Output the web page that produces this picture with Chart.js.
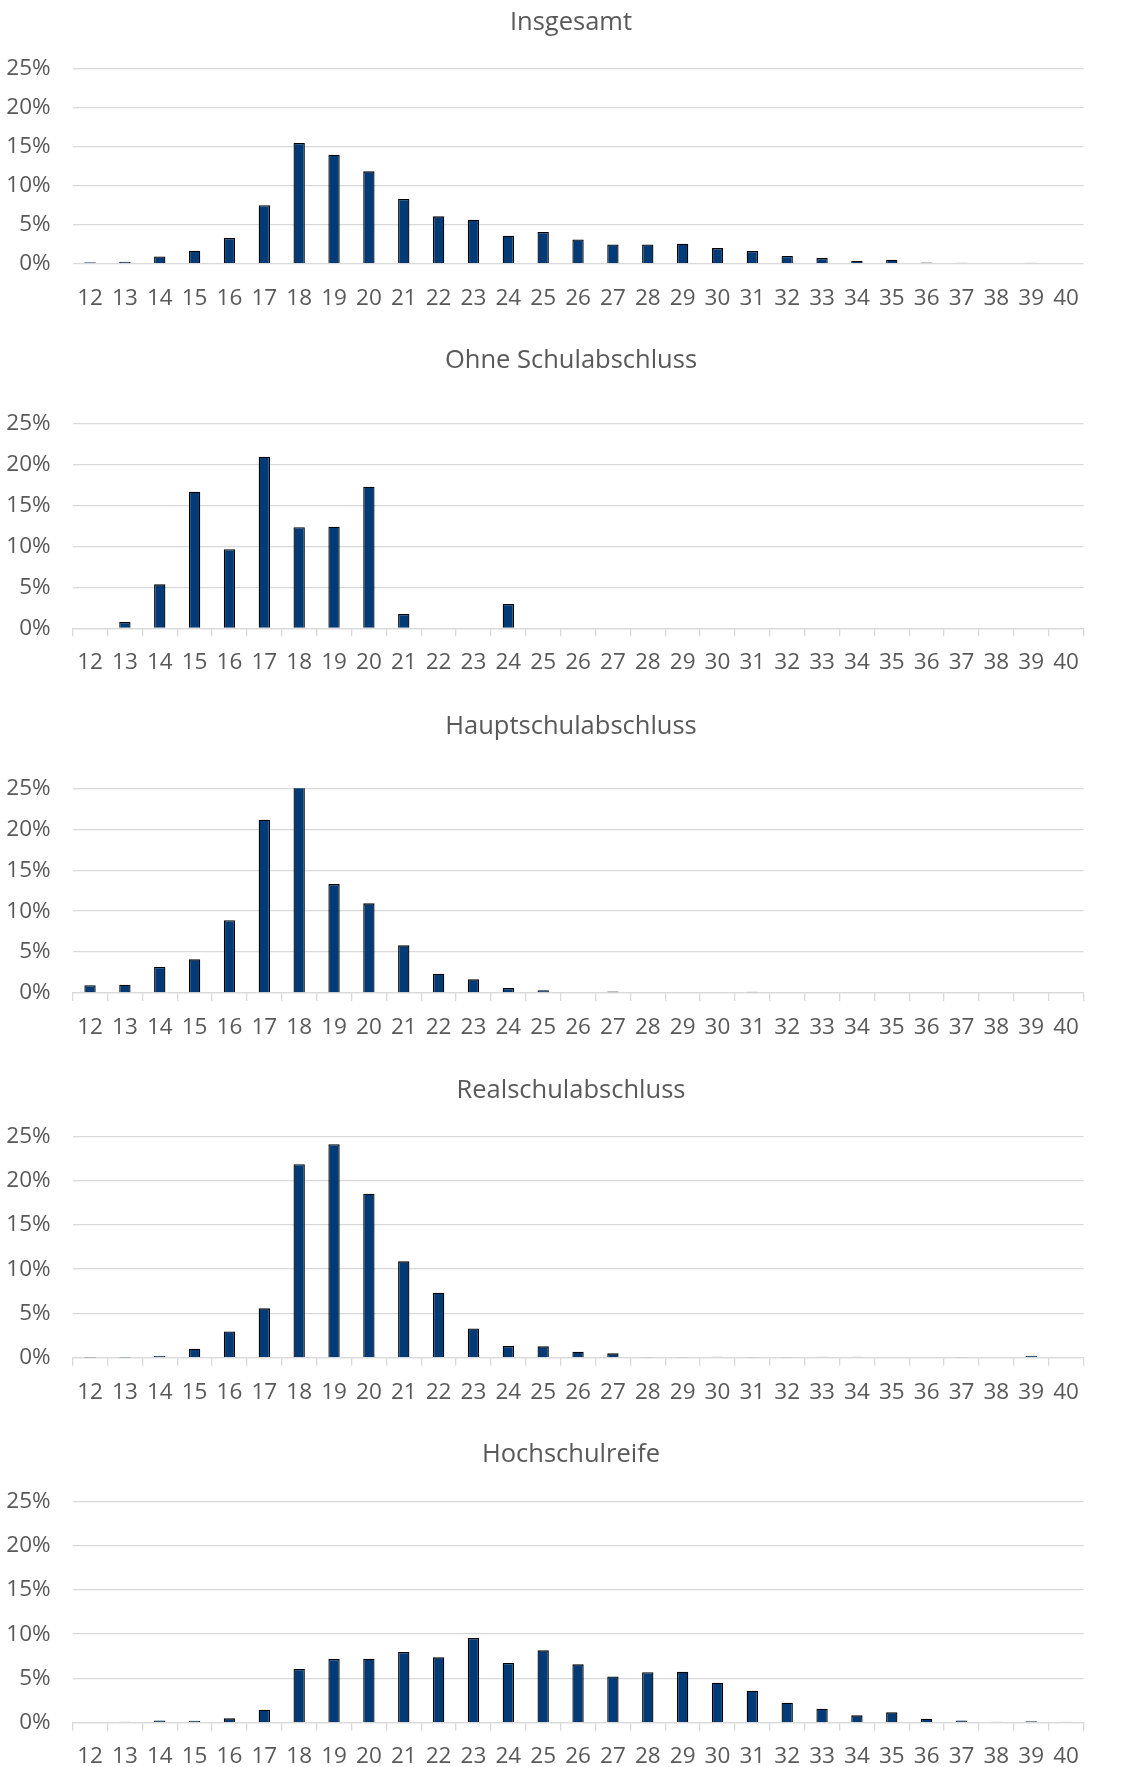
<!DOCTYPE html>
<html>
<head>
<meta charset="utf-8">
<script src="https://cdn.jsdelivr.net/npm/chart.js@4.4.1/dist/chart.umd.min.js"></script>
<style>
  html, body { margin: 0; padding: 0; background: #ffffff; overflow: hidden; }
  #wrap { position: relative; width: 1126px; height: 1767px; background: #ffffff; overflow: hidden; }
  canvas { position: absolute; left: 0; }
</style>
</head>
<body>
<div id="wrap"></div>
<script>
// ---- Data (percent of persons per age) ----
const ages = ['12','13','14','15','16','17','18','19','20','21','22','23','24','25','26','27','28','29','30','31','32','33','34','35','36','37','38','39','40'];
const titles = ['Insgesamt', 'Ohne Schulabschluss', 'Hauptschulabschluss', 'Realschulabschluss', 'Hochschulreife'];
const insgesamt = [0.2,0.25,0.94,1.67,3.3,7.5,15.5,14.0,11.86,8.3,6.08,5.65,3.6,4.07,3.1,2.48,2.48,2.57,2.0,1.63,0.98,0.73,0.34,0.51,0.17,0.13,0.08,0.13,0.08];
const ohneAbschluss = [0,0.77,5.37,16.7,9.65,20.97,12.34,12.42,17.3,1.75,0,0,2.97,0,0,0,0,0,0,0,0,0,0,0,0,0,0,0,0];
const hauptschule = [0.94,1.02,3.18,4.11,8.88,21.17,25.49,13.3,10.95,5.82,2.36,1.67,0.61,0.35,0.08,0.17,0,0,0,0.15,0,0.08,0,0,0.08,0,0,0,0];
const realschule = [0.03,0.03,0.19,1.02,2.97,5.57,21.84,24.1,18.52,10.88,7.34,3.31,1.32,1.28,0.68,0.49,0.04,0.04,0.1,0.04,0.04,0.1,0.1,0,0,0.04,0,0.23,0];
const hochschulreife = [0,0.1,0.26,0.23,0.49,1.47,6.06,7.19,7.23,7.98,7.38,9.56,6.74,8.17,6.59,5.23,5.69,5.76,4.52,3.61,2.26,1.58,0.83,1.17,0.45,0.26,0.1,0.15,0.12];
const yTicks = [0, 5, 10, 15, 20, 25];

const seriesList = [insgesamt, ohneAbschluss, hauptschule, realschule, hochschulreife];

// ---- Layout per panel (canvas placement and paddings) ----
const panels = [
  { top: 0,    height: 340, padTop: 7.5, titleGap: 30.9, xHeight: 76.3, xTicks: false, xPad: 21.6 },
  { top: 340,  height: 365, padTop: 5.4, titleGap: 47.7, xHeight: 76.7, xTicks: true,  xPad: 13.0 },
  { top: 705,  height: 363, padTop: 6.2, titleGap: 46.5, xHeight: 75.0, xTicks: true,  xPad: 13.3 },
  { top: 1068, height: 364, padTop: 7.2, titleGap: 30.5, xHeight: 74.3, xTicks: true,  xPad: 13.2 },
  { top: 1432, height: 335, padTop: 7.2, titleGap: 31.5, xHeight: 44.3, xTicks: true,  xPad: 12.7 }
];
const CANVAS_W = 1142;     // wider than the page so the centred title sits where it does in the original
const Y_AXIS_W = 72.6;
const RIGHT_GAP = 58.5;

const FONT = '"Open Sans", "Liberation Sans", sans-serif';
const TEXT = '#595959';
const GRID = '#D9D9D9';
const BAR = '#003B78';

const wrap = document.getElementById('wrap');

panels.forEach((p, i) => {
  const cv = document.createElement('canvas');
  cv.width = CANVAS_W;
  cv.height = p.height;
  cv.style.top = p.top + 'px';
  cv.style.width = CANVAS_W + 'px';
  cv.style.height = p.height + 'px';
  wrap.appendChild(cv);

  new Chart(cv.getContext('2d'), {
    type: 'bar',
    data: {
      labels: ages,
      datasets: [{
        data: seriesList[i],
        backgroundColor: BAR,
        borderColor: '#000000',
        borderWidth: 1.3,
        barPercentage: 0.325,
        categoryPercentage: 1.0
      }]
    },
    options: {
      responsive: false,
      animation: false,
      devicePixelRatio: 1,
      layout: { padding: { top: p.padTop, left: 0, right: 0, bottom: 0 } },
      plugins: {
        legend: { display: false },
        tooltip: { enabled: false },
        title: {
          display: true,
          text: titles[i],
          color: TEXT,
          font: { family: FONT, size: 25.5, weight: 'normal', lineHeight: 1.2 },
          padding: { top: 0, bottom: p.titleGap }
        }
      },
      scales: {
        x: {
          offset: true,
          grid: p.xTicks
            ? { display: true, drawOnChartArea: false, drawTicks: true, tickLength: 8, color: GRID, lineWidth: 1.3, offset: true }
            : { display: false, drawTicks: false },
          border: { display: p.xTicks, color: GRID, width: 1.3 },
          ticks: { color: TEXT, font: { family: FONT, size: 22.5, lineHeight: 1.2 }, padding: p.xPad, maxRotation: 0, autoSkip: false },
          afterFit: (s) => { s.height = p.xHeight; }
        },
        y: {
          min: 0,
          max: 25,
          afterBuildTicks: (s) => { s.ticks = yTicks.map(v => ({ value: v })); },
          grid: { color: GRID, lineWidth: 1.3, drawTicks: false },
          border: { display: false },
          ticks: { color: TEXT, font: { family: FONT, size: 22.5, lineHeight: 1.2 }, padding: 22, callback: (v) => v + '%' },
          afterFit: (s) => { s.width = Y_AXIS_W; }
        },
        spacer: {
          type: 'linear',
          position: 'right',
          display: true,
          grid: { display: false, drawTicks: false },
          border: { display: false },
          ticks: { display: false },
          afterFit: (s) => { s.width = RIGHT_GAP; }
        }
      }
    }
  });
});
</script>
</body>
</html>
